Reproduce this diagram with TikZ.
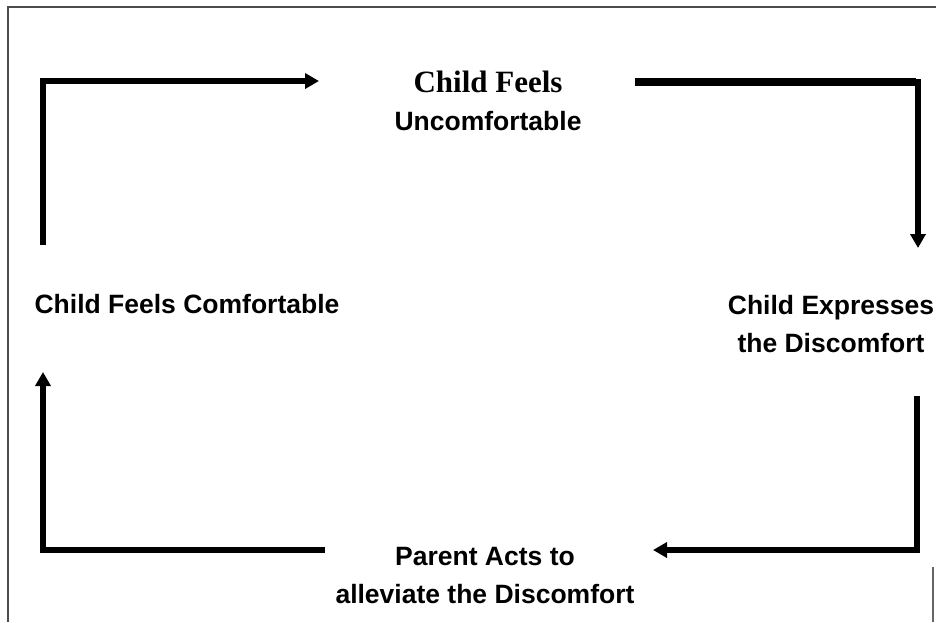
\documentclass[tikz,border=0pt]{standalone}
\usepackage{fontspec}
\setmainfont{Liberation Sans}
\newfontfamily\serifb{Liberation Serif}
\usetikzlibrary{arrows.meta}
\tikzset{
  lbl/.style={inner sep=0pt, align=center, font=\bfseries\fontsize{26.5}{38}\selectfont, anchor=base},
  flow/.style={line width=5.5pt, line join=miter, -{Triangle[length=14pt,width=15pt]}},
  frame/.style={draw=black!70, line width=2pt}
}
\begin{document}
\begin{tikzpicture}[x=1pt,y=-1pt]
\useasboundingbox (0,0) rectangle (936,622);
% frame
\draw[frame] (936,7) -- (8,7) -- (8,622);
\draw[black!60, line width=1.5pt] (933,567) -- (933,622);
% labels
\node[lbl] (top) at (488,130) {{\serifb\fontsize{31}{38}\selectfont Child Feels}\\Uncomfortable};
\node[lbl] (right) at (831,352) {Child Expresses\\the Discomfort};
\node[lbl] (bottom) at (485,603) {Parent Acts to\\alleviate the Discomfort};
\node[lbl] (left) at (187,313) {Child Feels Comfortable};
% connector ends
\coordinate (a1) at (43,245);
\coordinate (a1c) at (43,81);
\coordinate (a1e) at (319,81);
\coordinate (a2) at (635,82);
\coordinate (a2c) at (918,82);
\coordinate (a2e) at (918,248);
\coordinate (a3) at (917,396);
\coordinate (a3c) at (917,550);
\coordinate (a3e) at (653,550);
\coordinate (a4) at (325,550);
\coordinate (a4c) at (43,550);
\coordinate (a4e) at (43,372);
% connectors
\draw[flow] (a1) -- (a1c) -- (a1e);
\draw[flow] (a2) -- (a2c) -- (a2e);
\draw[line width=8pt] (a2) -- ([xshift=-2pt]a2c);
\draw[flow] (a3) -- (a3c) -- (a3e);
\draw[flow] (a4) -- (a4c) -- (a4e);
\end{tikzpicture}
\end{document}
